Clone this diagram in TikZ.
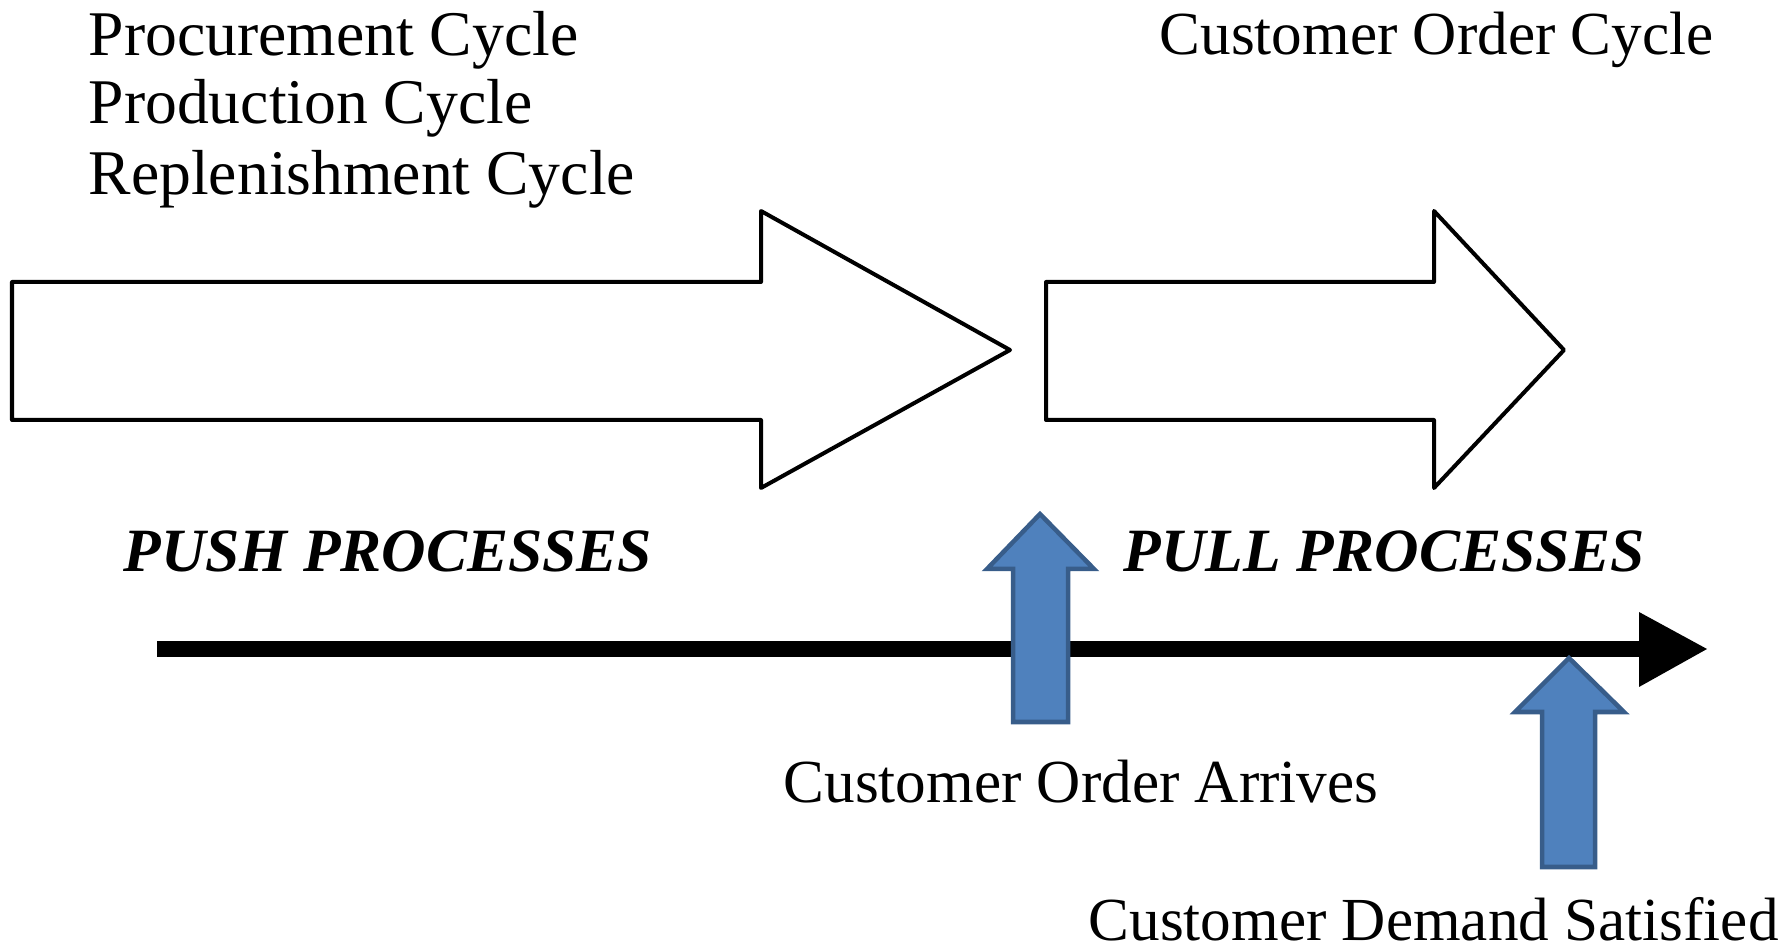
\documentclass[tikz,border=0pt]{standalone}
\usepackage{fontspec}
\setmainfont{Liberation Serif}
\begin{document}
\begin{tikzpicture}[x=0.01cm,y=-0.01cm,
  toplbl/.style={anchor=west,inner sep=0pt,font=\fontsize{18.1}{21}\selectfont},
  lbl/.style={anchor=west,inner sep=0pt,font=\fontsize{17.4}{21}\selectfont},
  proc/.style={anchor=west,inner sep=0pt,font=\fontsize{17.5}{21}\selectfont\bfseries\itshape},
  cycle/.style={draw=black,fill=white,line width=0.04cm,line join=round},
  event/.style={draw=eventedge,fill=eventfill,line width=0.045cm,line join=miter},
]
\definecolor{eventfill}{HTML}{4F81BD}
\definecolor{eventedge}{HTML}{385D8A}
\useasboundingbox (0,0) rectangle (1787,946);

% cycle labels
\node[toplbl] (proc) at (88,40) {Procurement Cycle};
\node[toplbl] (prod) at (88,108) {Production Cycle};
\node[toplbl] (repl) at (88,179) {Replenishment Cycle};
\node[lbl] (cust) at (1159,40) {Customer Order Cycle};

% push and pull block arrows
\draw[cycle] (12,282) -- (761,282) -- (761,211) -- (1010,350) -- (761,488)
  -- (761,420) -- (12,420) -- cycle;
\draw[cycle] (1046,282) -- (1434,282) -- (1434,211) -- (1564,350) -- (1434,488)
  -- (1434,420) -- (1046,420) -- cycle;

% process labels
\node[proc] (push) at (123,551) {PUSH PROCESSES};
\node[proc] (pull) at (1123,551) {PULL PROCESSES};

% time line
\coordinate (tstart) at (157,649);
\coordinate (tend) at (1640,649);
\draw[line width=0.15cm] (tstart) -- (tend);
\fill (1639,612) -- (1707,649) -- (1639,687) -- cycle;

% event markers
\draw[event] (1013,722) -- (1013,569) -- (987,569) -- (1040,514) -- (1094,569)
  -- (1068,569) -- (1068,722) -- cycle;
\draw[event] (1542,867) -- (1542,712) -- (1515,712) -- (1569,658) -- (1624,712)
  -- (1595,712) -- (1595,867) -- cycle;

% event labels
\node[lbl] (arr) at (783,782) {Customer Order Arrives};
\node[lbl] (sat) at (1088,919) {Customer Demand Satisfied};
\end{tikzpicture}
\end{document}
